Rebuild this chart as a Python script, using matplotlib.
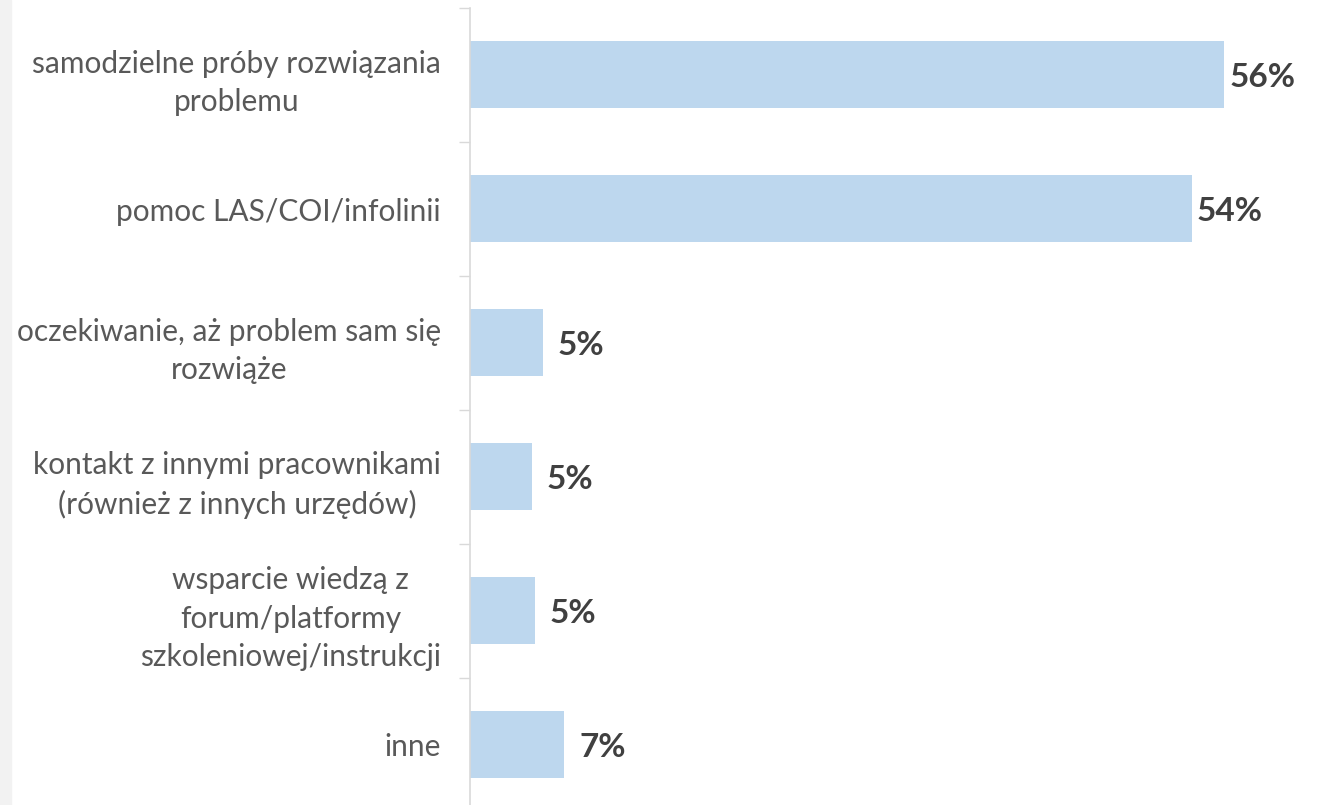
import matplotlib.pyplot as plt
from matplotlib.patches import Rectangle
import numpy as np

categories = [
    "samodzielne próby rozwiązania\nproblemu",
    "pomoc LAS/COI/infolinii",
    "oczekiwanie, aż problem sam się\nrozwiąże",
    "kontakt z innymi pracownikami\n(również z innych urzędów)",
    "wsparcie wiedzą z\nforum/platformy\nszkoleniowej/instrukcji",
    "inne",
]
values = [56.0, 53.6, 5.4, 4.6, 4.8, 7.0]
value_labels = ["56%", "54%", "5%", "5%", "5%", "7%"]

bar_color = "#BDD7EE"
grid_color = "#D9D9D9"

plt.rcParams['font.family'] = ['Lato', 'DejaVu Sans']

fig = plt.figure(figsize=(13.2, 8.05), dpi=100)
fig.patches.append(Rectangle((0, 0), 11 / 1320, 1, transform=fig.transFigure,
                             color="#F2F2F2", zorder=0))

# axes: left spine at x=470px, top at y=8px, 134px per category
n = len(categories)
ax_h = n * 134 / 805
ax_top = 1 - 8 / 805
ax = fig.add_axes([470 / 1320, ax_top - ax_h, 850 / 1320, ax_h])

y = np.arange(n)
ax.barh(y, values, height=0.5, color=bar_color)
ax.set_ylim(n - 0.5, -0.5)
ax.set_xlim(0, 850 / (754 / 56))

for yi, v, lab in zip(y, values, value_labels):
    ax.annotate(lab, (v, yi), xytext=(27.5, -2), textcoords="offset points",
                ha="center", va="center", fontsize=24, fontweight="bold",
                color="#404040")

ax.set_yticks(y)
ax.set_yticklabels(categories, fontsize=21.5, color="#595959",
                   multialignment="center", linespacing=1.45)
ax.set_yticks(np.arange(n + 1) - 0.5, minor=True)
ax.tick_params(axis="y", which="major", length=0, pad=21)
ax.tick_params(axis="y", which="minor", length=8, width=1, color=grid_color)
ax.set_xticks([])

for s in ["top", "right", "bottom"]:
    ax.spines[s].set_visible(False)
ax.spines["left"].set_color(grid_color)
ax.spines["left"].set_linewidth(1.2)

fig.savefig("out.png", dpi=100)
